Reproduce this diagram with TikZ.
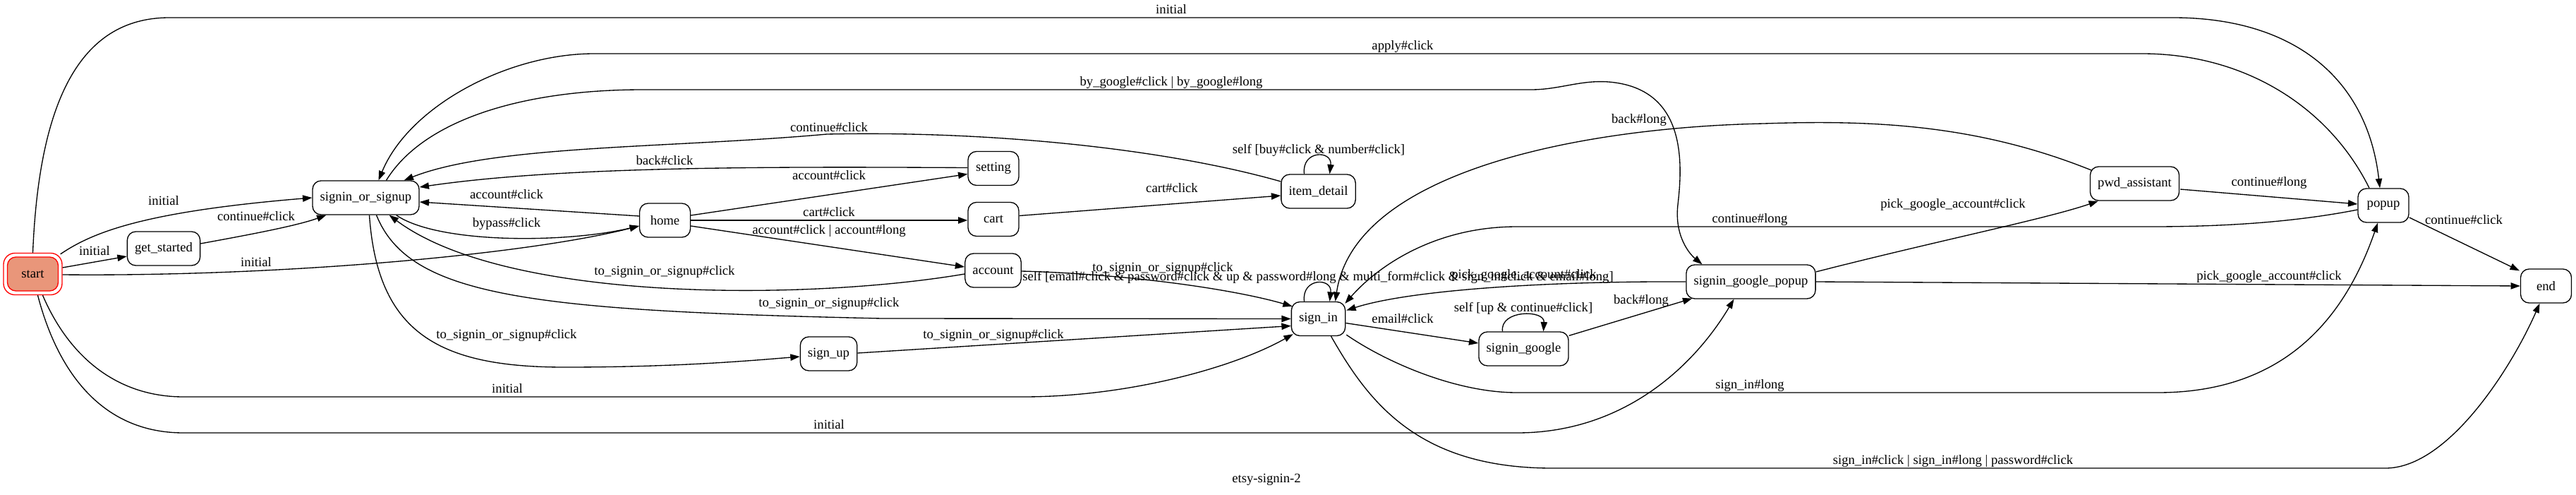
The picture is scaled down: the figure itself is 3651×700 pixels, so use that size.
\documentclass[tikz,border=0pt]{standalone}
\usepackage{fontspec}
\setmainfont{Liberation Serif}
\usetikzlibrary{arrows.meta,calc}
\definecolor{startfill}{HTML}{E9967A}
\begin{document}
\begin{tikzpicture}[x=0.75pt,y=-0.75pt,
  st/.style={draw, line width=1pt, rounded corners=9pt, minimum height=36pt, minimum width=54pt, inner xsep=8pt, inner ysep=0pt, font=\fontsize{14}{16}\selectfont},
  lbl/.style={font=\fontsize{14}{16}\selectfont, inner sep=0pt, text height=10pt, text depth=3pt},
  conn/.style={draw, line width=1pt, -{Triangle[length=10pt,width=7pt]}}]
\useasboundingbox[fill=white] (0,0) rectangle (3651,700);
% nodes
\node[st, draw=red, minimum width=62.25pt, minimum height=44.25pt, rounded corners=12pt] (startframe) at (46.5,388) {};
\node[st, draw=red, fill=startfill] (start) at (46.5,388) {start};
\node[st] (gs) at (232,352) {get\_started};
\node[st] (sos) at (518.5,280) {signin\_or\_signup};
\node[st] (home) at (942.5,312) {home};
\node[st] (setting) at (1408,238.5) {setting};
\node[st] (cart) at (1408,310.5) {cart};
\node[st] (acc) at (1407.5,383) {account};
\node[st] (signup) at (1174.5,501) {sign\_up};
\node[st] (item) at (1868.5,271) {item\_detail};
\node[st] (si) at (1868.5,451.5) {sign\_in};
\node[st] (sg) at (2159.5,494) {signin\_google};
\node[st] (sgp) at (2481.5,399) {signin\_google\_popup};
\node[st] (pwd) at (3025.5,260) {pwd\_assistant};
\node[st] (popup) at (3378,291) {popup};
\node[st] (endn) at (3608.5,405) {end};
% edges
\draw[conn] (startframe.north) .. controls (55,150) and (110,25) .. (240,25) -- (3080,25) .. controls (3250,25) and (3355,110) .. ($(popup.north)+(-5,0)$);
\draw[conn] ($(popup.north)+(-20,0)$) .. controls (3300,150) and (3180,76) .. (3036,76) -- (842,76) .. controls (720,76) and (580,150) .. ($(sos.north)+(18,0)$);
\draw[conn] ($(sos.north)+(29,0)$) .. controls (600,170) and (740,127) .. (911,127) -- (2170,127) .. controls (2210,127) and (2240,113) .. (2280,116) .. controls (2390,125) and (2385,230) .. (2378,290) .. controls (2373,335) and (2395,360) .. ($(sgp.north)+(-69,0)$);
\draw[conn] ($(pwd.north west)+(3,6)$) .. controls (2800,175) and (2650,170) .. (2500,175) .. controls (2250,180) and (1920,240) .. ($(si.north)+(24,0)$);
\draw[conn] ($(popup.west)+(0,6)$) .. controls (3250,315) and (3150,321) .. (3050,321) -- (2150,321) .. controls (2030,321) and (1950,380) .. ($(si.north east)+(-1,3)$);
\draw[conn] ($(si.north)+(-20,0)$) .. controls ($(si.north)+(-24,-34)$) and ($(si.north)+(20,-34)$) .. ($(si.north)+(16,0)$);
\draw[conn] ($(item.north)+(-20,0)$) .. controls ($(item.north)+(-24,-34)$) and ($(item.north)+(20,-34)$) .. ($(item.north)+(16,0)$);
\draw[conn] ($(sg.north)+(-30,0)$) .. controls ($(sg.north)+(-34,-31)$) and ($(sg.north)+(30,-31)$) .. ($(sg.north)+(28,0)$);
\draw[conn] ($(si.east)+(0,6)$) -- ($(sg.west)+(0,-8)$);
\draw[conn] ($(sg.north east)+(0,6)$) -- ($(sgp.south west)+(9,-1)$);
\draw[conn] (sgp.west) .. controls (2200,398) and (2000,410) .. ($(si.east)+(1,-12)$);
\draw[conn] ($(si.south east)+(1,-2)$) .. controls (1960,510) and (2060,556) .. (2150,556) -- (3058,556) .. controls (3230,556) and (3320,460) .. ($(popup.south)+(-8,0)$);
\draw[conn] ($(si.south)+(18,0)$) .. controls (1940,570) and (2010,663) .. (2200,663) -- (3381,663) .. controls (3470,663) and (3560,520) .. ($(endn.south)+(-9,0)$);
\draw[conn] ($(sgp.east)+(0,-14)$) .. controls (2750,340) and (2900,310) .. ($(pwd.south west)+(12,0)$);
\draw[conn] (sgp.east) -- (endn.west);
\draw[conn] ($(pwd.east)+(1,8)$) -- ($(popup.west)+(0,-2)$);
\draw[conn] ($(popup.east)+(0,17)$) -- ($(endn.north west)+(-1,3)$);
\draw[conn] ($(startframe.north east)+(-3,2)$) .. controls (130,330) and (200,300) .. (sos.west);
\draw[conn] ($(startframe.east)+(0,-9)$) -- ($(gs.west)+(0,11)$);
\draw[conn] ($(gs.east)+(0,-7)$) .. controls (350,333) and (420,320) .. ($(sos.south west)+(20,0)$);
\draw[conn] ($(startframe.east)+(0,1)$) .. controls (400,392) and (750,360) .. ($(home.west)+(0,8)$);
\draw[conn] ($(startframe.south)+(14,0)$) .. controls (100,510) and (170,562) .. (260,562) -- (1450,562) .. controls (1600,562) and (1750,520) .. ($(si.south west)+(3,-3)$);
\draw[conn] ($(startframe.south)+(7,0)$) .. controls (80,520) and (140,613) .. (260,613) -- (2150,613) .. controls (2300,613) and (2400,520) .. ($(sgp.south)+(-24,0)$);
\draw[conn] ($(home.west)+(0,-6)$) -- ($(sos.east)+(0,6)$);
\draw[conn] ($(sos.south east)+(-33,0)$) .. controls (620,345) and (800,345) .. ($(home.west)+(0,8)$);
\draw[conn] ($(setting.west)+(0,-1)$) .. controls (1100,236) and (800,235) .. ($(sos.east)+(0,-15)$);
\draw[conn] ($(home.east)+(0,-7)$) -- ($(setting.west)+(0,8)$);
\draw[conn] (home.east) -- ($(cart.west)+(0,1.5)$);
\draw[conn] ($(home.east)+(0,8)$) -- ($(acc.west)+(0,-5)$);
\draw[conn] ($(acc.west)+(0,5)$) .. controls (1150,425) and (720,430) .. ($(sos.south east)+(-43,0)$);
\draw[conn] ($(sos.south)+(15,0)$) .. controls (580,420) and (750,440) .. (1250,451) -- (si.west);
\draw[conn] ($(sos.south)+(5,0)$) .. controls (535,470) and (620,520) .. (800,520) .. controls (950,520) and (1050,512) .. ($(signup.west)+(0,4)$);
\draw[conn] ($(signup.east)+(0,-1)$) -- ($(si.west)+(0,10)$);
\draw[conn] ($(acc.east)+(0,1)$) .. controls (1600,388) and (1750,410) .. ($(si.north west)+(2,7)$);
\draw[conn] ($(cart.east)+(0,-5)$) -- ($(item.west)+(0,6)$);
\draw[conn] ($(item.west)+(0,-14)$) .. controls (1650,210) and (1400,185) .. (1172,190) .. controls (950,210) and (700,205) .. ($(sos.north east)+(-22,0)$);
% labels
\node[lbl] (l1) at (1660,15) {initial};
\node[lbl] (l2) at (1988,66) {apply\#click};
\node[lbl] (l3) at (1660,117) {by\_google\#click | by\_google\#long};
\node[lbl] (l4) at (2323,170) {back\#long};
\node[lbl] (l5) at (2480,311) {continue\#long};
\node[lbl] (l6) at (1175,182) {continue\#click};
\node[lbl] (l7) at (1869,213) {self [buy\#click \& number\#click]};
\node[lbl] (l8) at (942,229) {back\#click};
\node[lbl] (l9) at (1175,250) {account\#click};
\node[lbl] (l10) at (718,277) {account\#click};
\node[lbl] (l11) at (232,286) {initial};
\node[lbl] (l12) at (1661,268) {cart\#click};
\node[lbl] (l13) at (2768,290) {pick\_google\_account\#click};
\node[lbl] (l14) at (3216,259) {continue\#long};
\node[lbl] (l15) at (1175,302) {cart\#click};
\node[lbl] (l16) at (363,308) {continue\#click};
\node[lbl] (l17) at (3492,313) {continue\#click};
\node[lbl] (l18) at (718,317) {bypass\#click};
\node[lbl] (l19) at (1175,327) {account\#click | account\#long};
\node[lbl] (l20) at (134,357) {initial};
\node[lbl] (l21) at (363,373) {initial};
\node[lbl] (l22) at (942,385) {to\_signin\_or\_signup\#click};
\node[lbl] (l23) at (1648,380) {to\_signin\_or\_signup\#click};
\node[lbl] (l24) at (1868,393) {self [email\#click \& password\#click \& up \& password\#long \& multi\_form\#click \& sign\_in\#click \& email\#long]};
\node[lbl] (l25) at (2160,390) {pick\_google\_account\#click};
\node[lbl] (l26) at (3216,392) {pick\_google\_account\#click};
\node[lbl] (l27) at (1175,430) {to\_signin\_or\_signup\#click};
\node[lbl] (l28) at (2326,426) {back\#long};
\node[lbl] (l29) at (2159,437) {self [up \& continue\#click]};
\node[lbl] (l30) at (1988,453) {email\#click};
\node[lbl] (l31) at (718,475) {to\_signin\_or\_signup\#click};
\node[lbl] (l32) at (1408,475) {to\_signin\_or\_signup\#click};
\node[lbl] (l33) at (2480,546) {sign\_in\#long};
\node[lbl] (l34) at (719,552) {initial};
\node[lbl] (l35) at (1175,603) {initial};
\node[lbl] (l36) at (2768,653) {sign\_in\#click | sign\_in\#long | password\#click};
\node[lbl] (cap) at (1795,679) {etsy-signin-2};
\end{tikzpicture}
\end{document}
